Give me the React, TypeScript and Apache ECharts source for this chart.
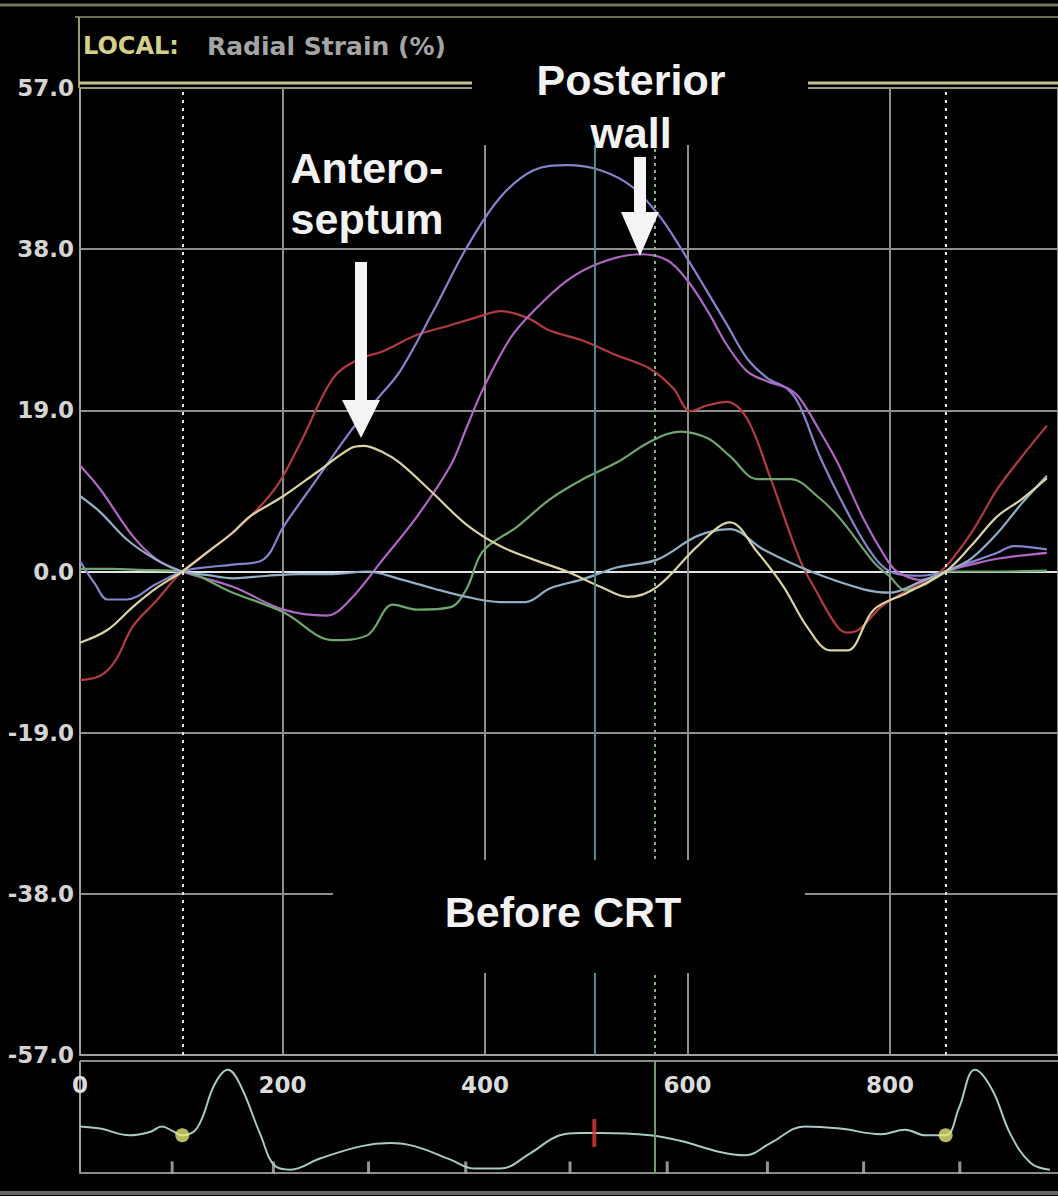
import React, { useEffect, useRef } from "react";
import * as echarts from "echarts";

// ---- Data (time in ms, radial strain in %) ----
const redStrain: number[][] = [[0,-12.8],[20,-12.3],[35,-10.5],[52,-6.5],[75,-3.5],[101,0],[151,4.6],[191,9.5],[217,15],[250,22.8],[275,25],[300,26],[333,27.9],[365,29],[398,30.2],[415,30.7],[442,29.9],[464,28.4],[497,27.2],[530,25.5],[563,23.9],[586,21.6],[603,18.9],[620,19.6],[639,20.0],[659,18.0],[682,11.0],[711,1.4],[728,-2.5],[748,-6.5],[758,-7.2],[770,-6.8],[791,-4.2],[820,-2.0],[850,0],[880,4.5],[906,9.7],[930,13.5],[955,17.2]];
const blueStrain: number[][] = [[0,1.2],[15,-1.5],[27,-3.3],[46,-3.3],[75,-1.5],[101,0],[125,0.5],[151,0.8],[181,1.4],[201,5.3],[234,10.9],[267,16.5],[294,20.4],[316,23.6],[349,30.7],[382,38.2],[415,44.1],[448,47.3],[481,47.9],[514,47.3],[546,45.3],[573,41.8],[593,38.2],[613,34.3],[639,29.1],[659,25.1],[679,22.8],[699,21.5],[711,19.5],[731,13.5],[758,7.0],[781,2.3],[800,0],[830,-0.5],[855,0],[873,0.8],[906,2.2],[922,3.0],[955,2.6]];
const purpleStrain: number[][] = [[0,12.5],[20,9.7],[52,4.2],[75,1.5],[101,0],[151,-1.8],[201,-4.5],[244,-5.2],[267,-3.3],[299,1.4],[333,6.5],[366,12.5],[382,17],[398,21.5],[425,27.5],[448,30.7],[481,34.3],[514,36.4],[553,37.4],[580,36.7],[600,34.3],[620,30.7],[639,26.7],[659,23.6],[679,22.4],[699,21.6],[711,20.4],[731,16.5],[748,12.9],[774,6.2],[797,1.4],[807,0],[830,-1.0],[855,0],[880,0.8],[906,1.5],[955,2.2]];
const greenStrain: number[][] = [[0,0.3],[30,0.3],[60,0.2],[101,0],[151,-2.5],[201,-4.8],[250,-8.1],[284,-7.5],[309,-3.9],[333,-4.5],[366,-4.2],[382,-2.0],[398,2.4],[432,5.3],[464,8.5],[497,10.9],[531,12.9],[563,15.3],[593,16.5],[620,15.7],[642,13.6],[669,10.9],[702,10.9],[728,8.9],[751,6.2],[784,1.1],[800,-0.6],[815,-2.2],[835,-1.5],[855,0],[900,0],[955,0.1]];
const creamStrain: number[][] = [[0,-8.4],[27,-6.9],[52,-4.2],[75,-2.0],[101,0],[125,2.2],[151,4.6],[168,6.5],[201,8.9],[234,11.7],[267,14.5],[280,14.8],[300,14.0],[316,12.8],[349,9.2],[382,5.5],[415,3.0],[448,1.4],[481,0],[514,-1.8],[541,-3.0],[570,-1.8],[610,3.0],[642,5.8],[669,2.3],[695,-1.8],[718,-6.5],[741,-9.3],[758,-9.3],[784,-4.5],[817,-2.5],[855,0],[880,3.0],[906,6.5],[930,8.5],[955,11.0]];
const cyanStrain: number[][] = [[0,8.9],[20,7.0],[46,3.8],[75,1.4],[101,0],[125,-0.4],[151,-0.8],[185,-0.5],[217,-0.3],[250,-0.3],[284,0],[316,-0.9],[349,-2.0],[382,-3.0],[415,-3.6],[440,-3.6],[464,-2.0],[497,-0.9],[531,0.5],[570,1.4],[610,4.2],[642,5.0],[675,2.6],[724,-0.1],[774,-2.1],[800,-2.5],[830,-1.2],[855,0],[880,1.5],[906,4.5],[930,8.0],[955,11.3]];

// ECG trace (ms, arbitrary amplitude 0-100)
const ecgMs = [0,20,49,69,81,91,101,116,133,146,158,178,193,208,237,277,306,331,366,390,415,445,474,494,514,563,593,632,657,682,716,751,791,815,835,855,868,884,901,919,939,958];
const ecgAmp = [42,40,34,37,42,38,34,41,80,93,80,35,6,3,13,24,27,24,12,4,4,18,34,36,36,34,29,19,16,27,42,40,35,39,34,34,58,93,75,35,9,3];
const ecgTickMs = [91,191,285,381,484,580,679,774,869];
const ecgDots: number[][] = [[101,34],[855,34]];
const redMarkerMs = [508];

// Event markers (ms)
const dottedEvents = [101, 855];
const tealEvent = 508;
const greenEvent = 568;

const X_MAX = 966;
const yTickInterval = 19;
const xTickInterval = 200;

const strainSeries = [
  { name: "red", data: redStrain, color: "#b23a42" },
  { name: "blue", data: blueStrain, color: "#8484cc" },
  { name: "purple", data: purpleStrain, color: "#b066c4" },
  { name: "green", data: greenStrain, color: "#6ea66e" },
  { name: "cyan", data: cyanStrain, color: "#92aec6" },
  { name: "cream", data: creamStrain, color: "#d9d2a2" },
];

const numFont = "DejaVu Sans";
const boldFont = "Liberation Sans";

export default function App() {
  const ref = useRef<HTMLDivElement>(null);
  useEffect(() => {
    if (!ref.current) return;
    const chart = echarts.init(ref.current, undefined, { renderer: "svg" });
    const gridLineColors = ["#8e8e8e", "#8e8e8e", "#8e8e8e", "#e4e4e4", "#8e8e8e", "#8e8e8e", "#9a9a80"];

    const series: any[] = strainSeries.map((s, i) => ({
      type: "line",
      name: s.name,
      xAxisIndex: 0,
      yAxisIndex: 0,
      data: s.data,
      showSymbol: false,
      smooth: 0.35,
      lineStyle: { color: s.color, width: 2.2 },
      z: 3,
      markLine: i === 0 ? {
        silent: true,
        symbol: "none",
        label: { show: false },
        data: [
          ...dottedEvents.map((e) => ({ xAxis: e, lineStyle: { color: "#e6e6d6", width: 2, type: [3, 5] } })),
          { xAxis: tealEvent, lineStyle: { color: "#4f8a8c", width: 2, type: "solid" } },
          { xAxis: greenEvent, lineStyle: { color: "#86b086", width: 2, type: [3, 4] } },
        ],
      } : undefined,
    }));

    series.push({
      type: "line",
      name: "ecg",
      xAxisIndex: 1,
      yAxisIndex: 1,
      data: ecgMs.map((m, i) => [m, ecgAmp[i]]),
      showSymbol: false,
      smooth: 0.4,
      lineStyle: { color: "#a9c9c6", width: 2 },
      markLine: {
        silent: true,
        symbol: "none",
        label: { show: false },
        data: [{ xAxis: greenEvent, lineStyle: { color: "#6a9c6a", width: 2, type: "solid" } }],
      },
    });
    series.push({
      type: "scatter",
      xAxisIndex: 1,
      yAxisIndex: 1,
      data: ecgTickMs.map((m) => [m, 5]),
      symbol: "rect",
      symbolSize: [3, 12],
      itemStyle: { color: "#b8b8b8" },
      silent: true,
    });
    series.push({
      type: "scatter",
      xAxisIndex: 1,
      yAxisIndex: 1,
      data: ecgDots,
      symbolSize: 14,
      itemStyle: { color: "#e6e87a" },
      silent: true,
      z: 5,
    });
    series.push({
      type: "scatter",
      xAxisIndex: 1,
      yAxisIndex: 1,
      data: redMarkerMs.map((m) => [m, 36]),
      symbol: "rect",
      symbolSize: [4, 28],
      itemStyle: { color: "#e03a3a" },
      silent: true,
      z: 5,
    });

    const bigText = (text: string, x: number, y: number) => ({
      type: "text",
      x,
      y,
      z: 102,
      style: {
        text,
        fill: "#f2f2f2",
        font: `bold 43px "${boldFont}"`,
        textAlign: "center",
        textVerticalAlign: "middle",
      },
    });

    chart.setOption({
      animation: false,
      backgroundColor: "#000",
      grid: [
        { left: 80, right: 0, top: 88, height: 967 },
        { left: 80, right: 0, top: 1062, height: 111 },
      ],
      xAxis: [
        {
          type: "value",
          gridIndex: 0,
          min: 0,
          max: X_MAX,
          interval: xTickInterval,
          axisLine: { show: true, onZero: false, lineStyle: { color: "#a0a0a0", width: 2 } },
          axisTick: { show: false },
          axisLabel: {
            show: true,
            showMaxLabel: false,
            color: "#dcdcdc",
            fontFamily: numFont,
            fontWeight: "bold",
            fontSize: 23,
            margin: 18,
          },
          splitLine: { show: true, lineStyle: { color: "#8e8e8e", width: 2 } },
        },
        {
          type: "value",
          gridIndex: 1,
          min: 0,
          max: X_MAX,
          axisLine: { show: true, onZero: false, lineStyle: { color: "#8a8a8a", width: 2 } },
          axisTick: { show: false },
          axisLabel: { show: false },
          splitLine: { show: false },
        },
      ],
      yAxis: [
        {
          type: "value",
          gridIndex: 0,
          min: -57,
          max: 57,
          interval: yTickInterval,
          axisLine: { show: true, lineStyle: { color: "#a0a0a0", width: 2 } },
          axisTick: { show: false },
          axisLabel: {
            color: "#d4d4d4",
            fontFamily: numFont,
            fontWeight: "bold",
            fontSize: 23,
            margin: 6,
            formatter: (v: number) => v.toFixed(1),
          },
          splitLine: { show: true, lineStyle: { color: gridLineColors, width: 2 } },
        },
        {
          type: "value",
          gridIndex: 1,
          min: 0,
          max: 100,
          axisLine: { show: true, lineStyle: { color: "#a0a0a0", width: 2 } },
          axisTick: { show: false },
          axisLabel: { show: false },
          splitLine: { show: false },
        },
      ],
      series,
      graphic: [
        // top frame lines
        { type: "line", z: 50, shape: { x1: 0, y1: 5, x2: 1058, y2: 5 }, style: { stroke: "#777760", lineWidth: 3 } },
        { type: "line", z: 50, shape: { x1: 75, y1: 17, x2: 1058, y2: 17 }, style: { stroke: "#6e6e52", lineWidth: 2 } },
        { type: "line", z: 50, shape: { x1: 79, y1: 17, x2: 79, y2: 88 }, style: { stroke: "#9a9a70", lineWidth: 2 } },
        { type: "line", z: 50, shape: { x1: 79, y1: 83, x2: 1058, y2: 83 }, style: { stroke: "#c8c490", lineWidth: 3 } },
        { type: "line", z: 50, shape: { x1: 80, y1: 1061, x2: 1058, y2: 1061 }, style: { stroke: "#8a8a8a", lineWidth: 2 } },
        { type: "line", z: 50, shape: { x1: 0, y1: 1193, x2: 1058, y2: 1193 }, style: { stroke: "#666666", lineWidth: 4 } },
        // header
        { type: "text", x: 83, y: 46, z: 60, style: { text: "LOCAL:", fill: "#d4d08a", font: `bold 24px "${numFont}"`, textVerticalAlign: "middle" } },
        { type: "text", x: 207, y: 46, z: 60, style: { text: "Radial Strain (%)", fill: "#a4a4a4", font: `bold 25px "${numFont}"`, textVerticalAlign: "middle" } },
        // label boxes (black, cut grid lines)
        { type: "rect", z: 100, shape: { x: 472, y: 60, width: 336, height: 85 }, style: { fill: "#000" } },
        { type: "rect", z: 100, shape: { x: 333, y: 860, width: 472, height: 113 }, style: { fill: "#000" } },
        bigText("Posterior", 631, 80),
        bigText("wall", 631, 133),
        bigText("Antero-", 367, 168),
        bigText("septum", 367, 219),
        bigText("Before CRT", 563, 912),
        // arrows
        { type: "rect", z: 102, shape: { x: 355, y: 262, width: 12, height: 140 }, style: { fill: "#f4f4f4" } },
        { type: "polygon", z: 102, shape: { points: [[342, 400], [380, 400], [361, 438]] }, style: { fill: "#f4f4f4" } },
        { type: "rect", z: 102, shape: { x: 634, y: 157, width: 12, height: 57 }, style: { fill: "#f4f4f4" } },
        { type: "polygon", z: 102, shape: { points: [[621, 212], [659, 212], [640, 256]] }, style: { fill: "#f4f4f4" } },
      ],
    });
    return () => chart.dispose();
  }, []);
  return <div ref={ref} style={{ position: "fixed", left: 0, top: 0, width: 1058, height: 1196 }} />;
}
